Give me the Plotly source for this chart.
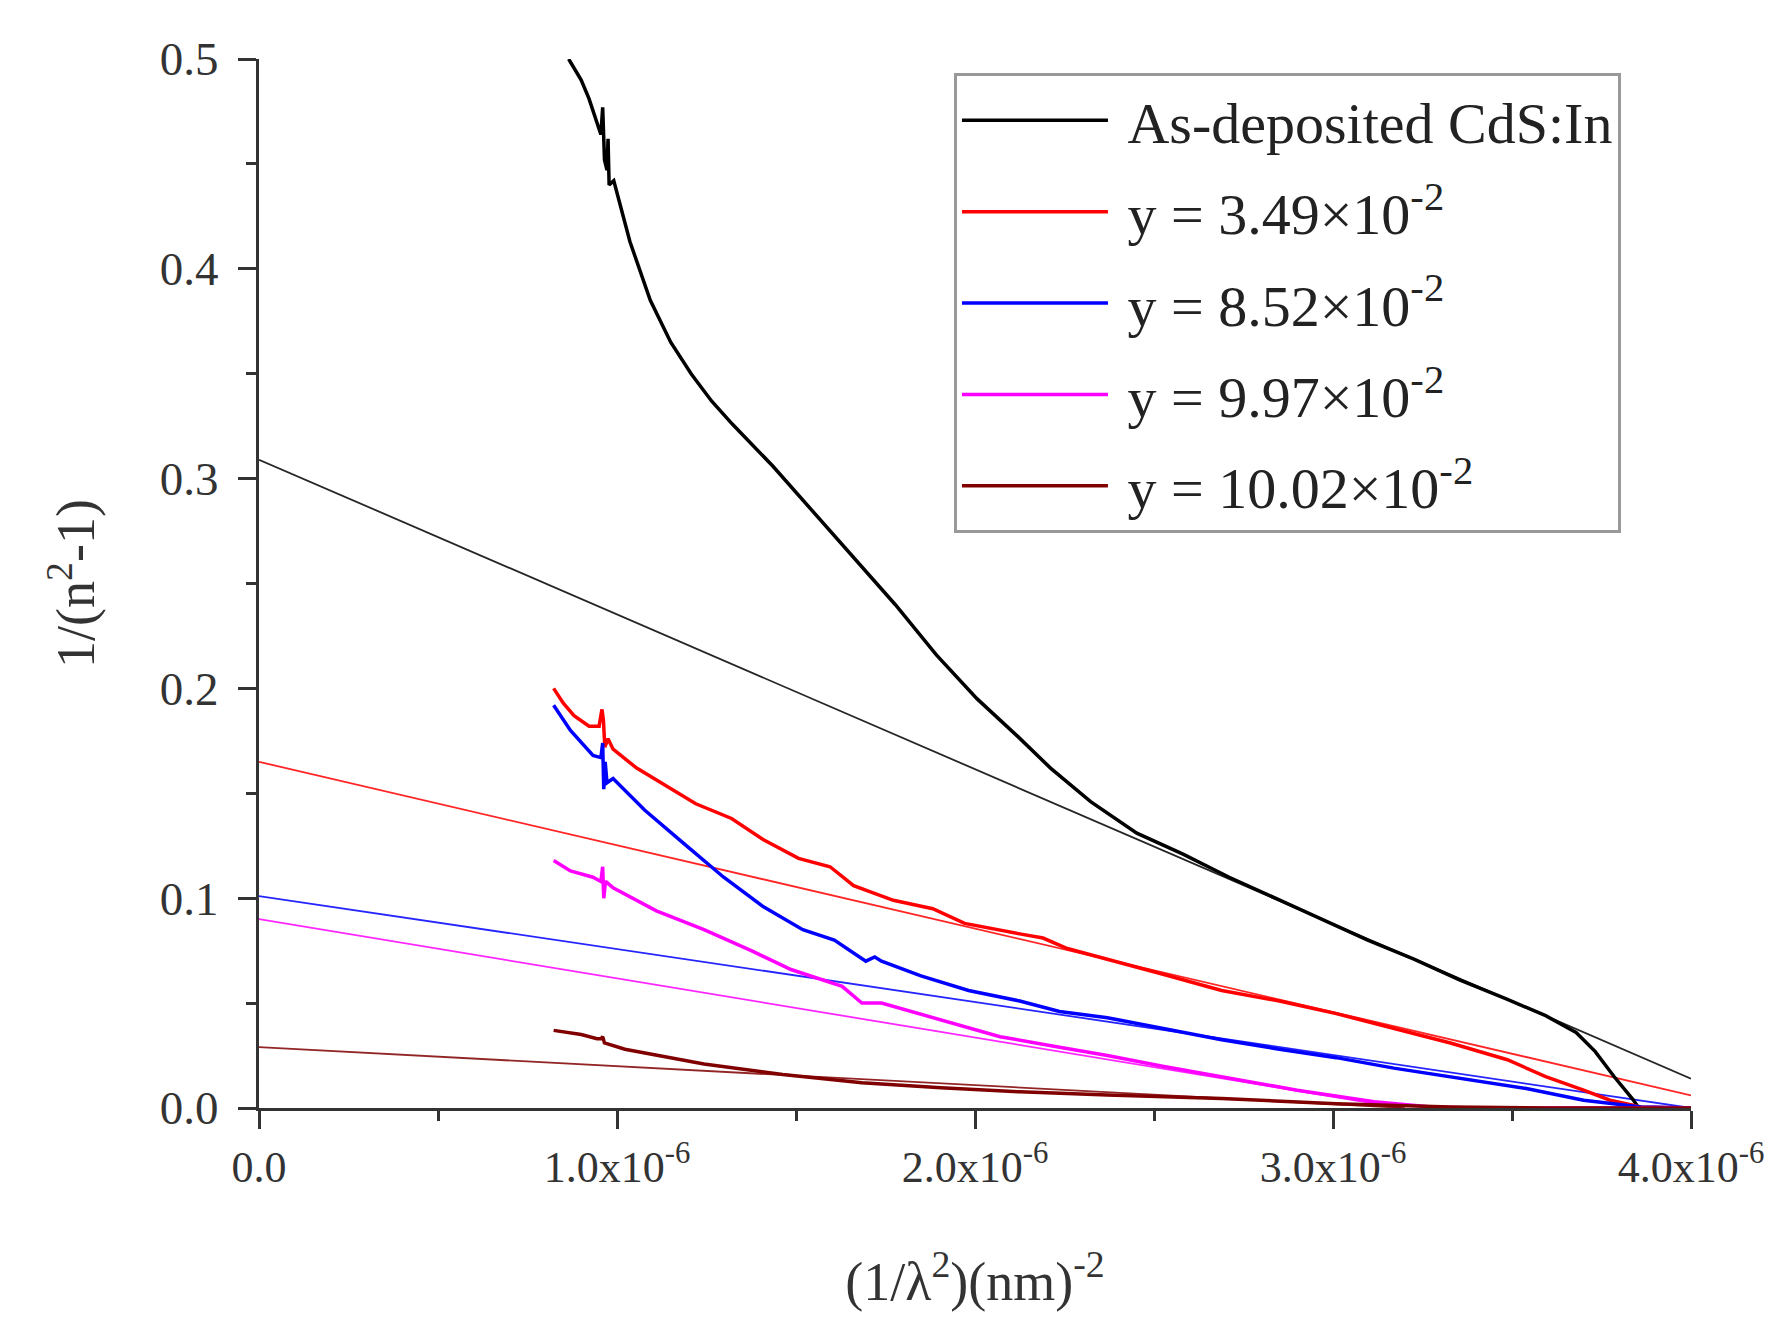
import numpy as np
import plotly.graph_objects as go

# x values in units of 1e-6 nm^-2
black_x = [0.865, 0.90, 0.922, 0.945, 0.955, 0.960, 0.962, 0.965, 0.972, 0.975, 0.978,
           0.991, 1.036, 1.093, 1.150, 1.207, 1.264, 1.322, 1.435, 1.549, 1.663, 1.777,
           1.892, 2.006, 2.120, 2.211, 2.323, 2.452, 2.581, 2.710, 2.839, 2.968, 3.097,
           3.226, 3.355, 3.484, 3.594, 3.679, 3.732, 3.785, 3.838, 3.854, 3.90, 4.0]
black_y = [0.500, 0.490, 0.481, 0.470, 0.464, 0.477, 0.468, 0.452, 0.447, 0.462, 0.440,
           0.442, 0.413, 0.385, 0.365, 0.350, 0.337, 0.326, 0.306, 0.284, 0.262, 0.240,
           0.216, 0.195, 0.177, 0.162, 0.146, 0.131, 0.121, 0.110, 0.100, 0.090, 0.080,
           0.071, 0.061, 0.052, 0.044, 0.036, 0.027, 0.015, 0.004, 0.0, 0.0, 0.0]

red_x = [0.823, 0.85, 0.88, 0.922, 0.950, 0.958, 0.962, 0.966, 0.975, 0.989, 1.055, 1.132,
         1.220, 1.320, 1.408, 1.507, 1.595, 1.661, 1.772, 1.882, 1.971, 2.125, 2.19, 2.258,
         2.37, 2.52, 2.689, 2.85, 3.009, 3.17, 3.328, 3.487, 3.594, 3.70, 3.774, 3.86, 4.0]
red_y = [0.200, 0.193, 0.187, 0.182, 0.182, 0.190, 0.185, 0.172, 0.176, 0.171, 0.162, 0.154,
         0.145, 0.138, 0.128, 0.119, 0.115, 0.106, 0.099, 0.095, 0.088, 0.083, 0.081, 0.076,
         0.071, 0.064, 0.056, 0.051, 0.045, 0.038, 0.031, 0.023, 0.015, 0.0085, 0.0037, 0.0005, 0.0]

blue_x = [0.823, 0.87, 0.933, 0.955, 0.960, 0.963, 0.967, 0.972, 0.989, 1.077, 1.187, 1.298,
          1.408, 1.519, 1.607, 1.695, 1.72, 1.739, 1.849, 1.982, 2.125, 2.236, 2.37, 2.52,
          2.689, 2.85, 3.009, 3.17, 3.328, 3.54, 3.70, 3.86, 4.0]
blue_y = [0.192, 0.180, 0.168, 0.167, 0.174, 0.152, 0.165, 0.155, 0.157, 0.142, 0.126, 0.110,
          0.096, 0.085, 0.080, 0.070, 0.072, 0.070, 0.063, 0.056, 0.051, 0.046, 0.043, 0.038,
          0.0325, 0.028, 0.024, 0.019, 0.015, 0.0093, 0.0037, 0.0005, 0.0]

magenta_x = [0.823, 0.87, 0.933, 0.955, 0.960, 0.963, 0.968, 0.989, 1.110, 1.243, 1.375,
             1.486, 1.629, 1.684, 1.739, 1.905, 2.070, 2.236, 2.37, 2.52, 2.689, 2.90,
             3.115, 3.275, 3.4, 4.0]
magenta_y = [0.118, 0.113, 0.110, 0.108, 0.115, 0.100, 0.108, 0.105, 0.094, 0.085, 0.075,
             0.066, 0.058, 0.050, 0.050, 0.042, 0.034, 0.029, 0.025, 0.020, 0.015, 0.0085,
             0.003, 0.0005, 0.0, 0.0]

maroon_x = [0.823, 0.90, 0.944, 0.955, 0.960, 0.965, 1.022, 1.243, 1.463, 1.684, 1.905,
            2.125, 2.37, 2.689, 3.009, 3.328, 3.6, 4.0]
maroon_y = [0.037, 0.035, 0.033, 0.033, 0.034, 0.031, 0.028, 0.021, 0.016, 0.012, 0.0096,
            0.0077, 0.0062, 0.0045, 0.002, 0.0005, 0.0, 0.0]

# linear fits: (x start, x end) and (y start, y end)
fit_black_x, fit_black_y = [0.0, 4.0], [0.309, 0.014]
fit_red_x, fit_red_y = [0.0, 4.0], [0.165, 0.006]
fit_blue_x, fit_blue_y = [0.0, 4.0], [0.101, 0.0]
fit_magenta_x, fit_magenta_y = [0.0, 3.19], [0.090, 0.0]
fit_maroon_x, fit_maroon_y = [0.0, 3.2], [0.029, 0.0]

names = [
    "As-deposited CdS:In",
    "y = 3.49×10<sup>-2</sup>",
    "y = 8.52×10<sup>-2</sup>",
    "y = 9.97×10<sup>-2</sup>",
    "y = 10.02×10<sup>-2</sup>",
]
colors = ["#000000", "#ff0000", "#0000ff", "#ff00ff", "#800000"]

x_tickvals = [0.0, 1.0, 2.0, 3.0, 4.0]
x_ticktext = ["0.0", "1.0x10<sup>-6</sup>", "2.0x10<sup>-6</sup>",
              "3.0x10<sup>-6</sup>", "4.0x10<sup>-6</sup>"]
y_tickvals = [0.0, 0.1, 0.2, 0.3, 0.4, 0.5]
y_ticktext = ["0.0", "0.1", "0.2", "0.3", "0.4", "0.5"]

FONT = "Liberation Serif"
SCALE = 1e-6
INK = "#333333"

fig = go.Figure()

fits = [
    (fit_black_x, fit_black_y),
    (fit_red_x, fit_red_y),
    (fit_blue_x, fit_blue_y),
    (fit_magenta_x, fit_magenta_y),
    (fit_maroon_x, fit_maroon_y),
]
for (fx, fy), color in zip(fits, colors):
    fig.add_trace(
        go.Scatter(
            x=np.array(fx) * SCALE,
            y=fy,
            mode="lines",
            line=dict(color=color, width=1.8),
            opacity=0.85,
            showlegend=False,
            hoverinfo="skip",
        )
    )

curves = [
    (black_x, black_y),
    (red_x, red_y),
    (blue_x, blue_y),
    (magenta_x, magenta_y),
    (maroon_x, maroon_y),
]
for i, ((cx, cy), color, name) in enumerate(zip(curves, colors, names)):
    fig.add_trace(
        go.Scatter(
            x=np.array(cx) * SCALE,
            y=cy,
            mode="lines",
            # non-breaking space keeps a gap between the legend line and text
            name="\u00a0" + name,
            legendgroup=f"g{i}",
            line=dict(color=color, width=3.5),
        )
    )

axis_common = dict(
    showline=True,
    linecolor=INK,
    linewidth=3,
    showgrid=False,
    zeroline=False,
    ticks="outside",
    ticklen=18,
    tickwidth=3,
    tickcolor=INK,
    mirror=False,
)
minor_ticks = dict(ticklen=10, tickwidth=3, tickcolor=INK, ticks="outside")

fig.update_xaxes(
    **axis_common,
    range=[0, 4.0 * SCALE],
    tickmode="array",
    tickvals=[v * SCALE for v in x_tickvals],
    ticktext=x_ticktext,
    tickfont=dict(family=FONT, size=44, color=INK),
    minor=dict(dtick=0.5 * SCALE, **minor_ticks),
    title=dict(
        text="(1/λ<sup>2</sup>)(nm)<sup>-2</sup>",
        font=dict(family=FONT, size=54, color=INK),
        standoff=72,
    ),
)
fig.update_yaxes(
    **axis_common,
    range=[0, 0.5],
    tickmode="array",
    tickvals=y_tickvals,
    ticktext=y_ticktext,
    tickfont=dict(family=FONT, size=47, color=INK),
    ticklabelstandoff=10,
    minor=dict(dtick=0.05, **minor_ticks),
    title=dict(
        text="1/(n<sup>2</sup>-1)",
        font=dict(family=FONT, size=54, color=INK),
        standoff=48,
    ),
)

fig.update_layout(
    width=1776,
    height=1318,
    margin=dict(l=251, r=93, t=51, b=218, autoexpand=False),
    paper_bgcolor="white",
    plot_bgcolor="white",
    legend=dict(
        x=0.4853,
        y=0.9866,
        xanchor="left",
        yanchor="top",
        bgcolor="white",
        bordercolor="#999999",
        borderwidth=3,
        font=dict(family=FONT, size=58, color="#222222"),
        itemwidth=146,
        tracegroupgap=13,
    ),
)

fig.write_html("out.html")
